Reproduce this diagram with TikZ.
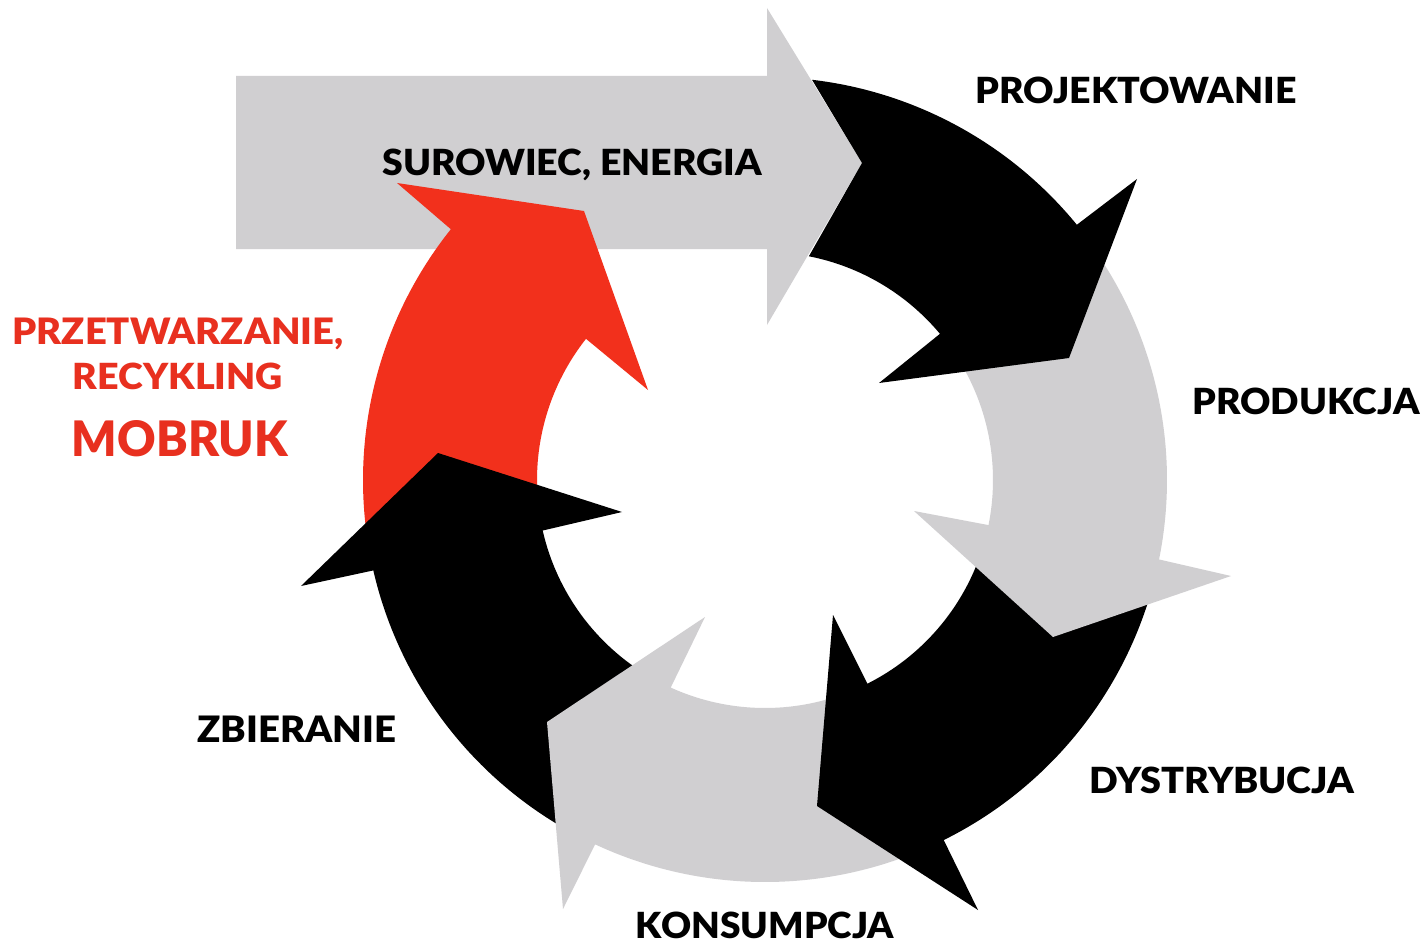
\documentclass[tikz,border=0pt]{standalone}
\usepackage{fontspec}
\usepackage{graphicx}
\usetikzlibrary{calc}
\setmainfont{Lato}[BoldFont={Lato Black}]
\definecolor{ringgrey}{HTML}{D0CFD1}
\definecolor{mobred}{HTML}{F2301C}
\definecolor{labelred}{HTML}{E8301F}
\newcommand{\fitlbl}[2]{\resizebox{#1pt}{26.5pt}{#2}}
\tikzset{
  lbl/.style={anchor=base,inner sep=0pt,font=\fontsize{37}{42}\selectfont\bfseries,text=black},
  redlbl/.style={lbl,text=labelred},
}
\begin{document}
\begin{tikzpicture}[x=1pt,y=1pt,yscale=-1]
\useasboundingbox (0,0) rectangle (1424,944);
\fill[white] (0,0) rectangle (1424,944);
\coordinate (c) at (765,480);
% input arrow
\fill[ringgrey] (236,76) -- (767,76) -- (767,8) -- (862,163) -- (767,325) -- (767,249) -- (236,249) -- cycle;
% red arrow
\fill[mobred] ($(c)+(172:402)$) arc[start angle=172,end angle=218.6,radius=402pt]
  -- (397,183) -- (584,211) -- (648,390) -- (585,338)
  -- ($(c)+(218.3:228)$) arc[start angle=218.3,end angle=175,radius=228pt] -- cycle;
% black collecting arrow
\fill[black] ($(c)+(118:402)$) arc[start angle=118,end angle=167,radius=402pt]
  -- (301,586) -- (438,453) -- (622,512) -- (545,530)
  -- ($(c)+(167.2:228)$) arc[start angle=167.2,end angle=120,radius=228pt] -- cycle;
% grey consumption arrow
\fill[ringgrey] ($(c)+(66:402)$) arc[start angle=66,end angle=115,radius=402pt]
  -- (563,909) -- (547,722) -- (705,617) -- (671,687)
  -- ($(c)+(114.4:228)$) arc[start angle=114.4,end angle=72,radius=228pt] -- cycle;
% black distribution arrow
\fill[black] ($(c)+(15:402)$) arc[start angle=15,end angle=63.6,radius=402pt]
  -- (978,910) -- (817,806) -- (833,615) -- (867,683)
  -- ($(c)+(63.3:228)$) arc[start angle=63.3,end angle=18,radius=228pt] -- cycle;
% grey production arrow
\fill[ringgrey] ($(c)+(-36:402)$) arc[start angle=-36,end angle=11.4,radius=402pt]
  -- (1231,576) -- (1053,637) -- (914,511) -- (988,525)
  -- ($(c)+(11.4:228)$) arc[start angle=11.4,end angle=-30,radius=228pt] -- cycle;
% black design arrow
\fill[black] ($(c)+(-83.3:403)$) arc[start angle=-83.3,end angle=-39.3,radius=403pt]
  -- (1137,179) -- (1069,358) -- (879,383) -- (941,333)
  -- ($(c)+(-39.9:228)$) arc[start angle=-39.9,end angle=-78.9,radius=228pt]
  -- (862,163) -- cycle;
% labels
\node[lbl] (proj) at (1136,104) {\fitlbl{321}{PROJEKTOWANIE}};
\node[lbl] (sur) at (572,176) {\fitlbl{379}{SUROWIEC, ENERGIA}};
\node[lbl] (prod) at (1306,414) {\fitlbl{227}{PRODUKCJA}};
\node[lbl] (dys) at (1222,793) {\fitlbl{265}{DYSTRYBUCJA}};
\node[lbl] (kon) at (765,938) {\fitlbl{258}{KONSUMPCJA}};
\node[lbl] (zb) at (297,742) {\fitlbl{199}{ZBIERANIE}};
\node[redlbl] (prz) at (178,344) {\fitlbl{331}{PRZETWARZANIE,}};
\node[redlbl] (rec) at (178,389) {\fitlbl{210}{RECYKLING}};
\node[redlbl] (mob) at (180,456) {\resizebox{216pt}{36pt}{MOBRUK}};
\end{tikzpicture}
\end{document}
